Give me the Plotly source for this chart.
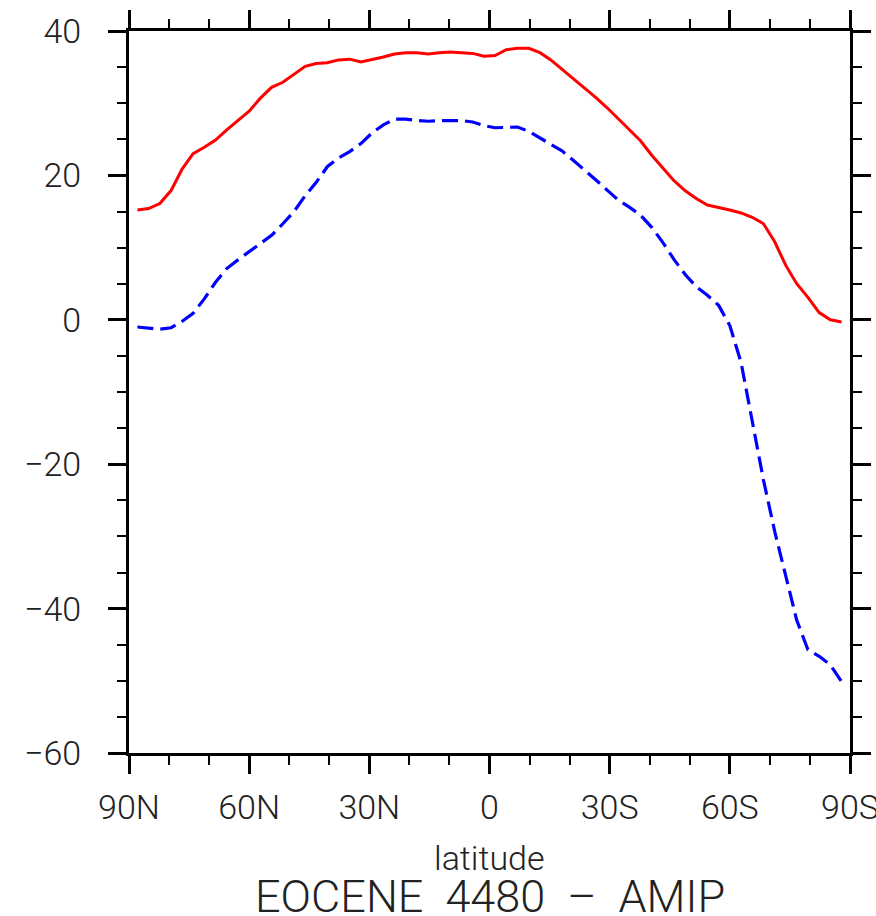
import plotly.graph_objects as go

# Gaussian-grid latitudes (degrees, north to south)
lat = [87.9, 85.1, 82.3, 79.5, 76.7, 74.0, 71.2, 68.4, 65.6, 62.8, 60.0, 57.2,
       54.4, 51.6, 48.8, 46.0, 43.3, 40.5, 37.7, 34.9, 32.1, 29.3, 26.5, 23.7,
       20.9, 18.1, 15.3, 12.6, 9.8, 7.0, 4.2, 1.4,
       -1.4, -4.2, -7.0, -9.8, -12.6, -15.3, -18.1, -20.9, -23.7, -26.5, -29.3,
       -32.1, -34.9, -37.7, -40.5, -43.3, -46.0, -48.8, -51.6, -54.4, -57.2,
       -60.0, -62.8, -65.6, -68.4, -71.2, -74.0, -76.7, -79.5, -82.3, -85.1, -87.9]

# EOCENE 4480 zonal mean
eocene = [15.2, 15.4, 16.1, 17.9, 20.9, 23.0, 23.9, 24.9, 26.3, 27.6, 28.9, 30.7,
          32.2, 32.9, 34.0, 35.1, 35.5, 35.6, 36.0, 36.1, 35.7, 36.0, 36.4, 36.8,
          37.0, 37.0, 36.8, 37.0, 37.1, 37.0, 36.9, 36.5,
          36.6, 37.4, 37.6, 37.6, 37.0, 36.0, 34.7, 33.5, 32.2, 30.8, 29.4,
          27.9, 26.4, 24.8, 22.8, 21.0, 19.3, 17.9, 16.8, 15.9, 15.6,
          15.2, 14.8, 14.2, 13.3, 10.8, 7.5, 5.0, 3.1, 1.0, 0.0, -0.3]

# AMIP zonal mean
amip = [-1.0, -1.2, -1.3, -1.1, -0.2, 0.9, 2.9, 5.2, 7.1, 8.3, 9.4, 10.5,
        11.7, 13.3, 15.0, 17.2, 19.0, 21.2, 22.4, 23.3, 24.4, 25.9, 27.0, 27.8,
        27.8, 27.6, 27.5, 27.6, 27.6, 27.6, 27.4, 26.9,
        26.6, 26.7, 26.7, 26.1, 25.2, 24.4, 23.4, 22.1, 20.8, 19.4, 18.0,
        16.6, 15.6, 14.5, 12.8, 10.7, 8.4, 6.3, 4.6, 3.4, 2.0,
        -0.8, -5.9, -14.1, -22.2, -29.3, -35.8, -41.6, -45.7, -46.6, -47.8, -50.1]

x_tickvals = [90, 60, 30, 0, -30, -60, -90]
x_ticktext = ["90N", "60N", "30N", "0", "30S", "60S", "90S"]
x_minor = [80, 70, 50, 40, 20, 10, -10, -20, -40, -50, -70, -80]

FONT = "Roboto"
TXT = "#222222"

fig = go.Figure()
fig.add_trace(go.Scatter(x=lat, y=eocene, mode="lines",
                         line=dict(color="#ff0000", width=3), name="EOCENE 4480"))
fig.add_trace(go.Scatter(x=lat, y=amip, mode="lines",
                         line=dict(color="#0000ff", width=3.2, dash="16px,7px"),
                         name="AMIP"))

axis_common = dict(
    showgrid=False, zeroline=False, automargin=False,
    showline=True, linecolor="black", linewidth=3,
    mirror="allticks", ticks="outside", tickcolor="black",
    ticklen=18, tickwidth=3,
    tickfont=dict(family=FONT, size=34, color=TXT, weight=300),
    ticklabeloverflow="allow",
)

fig.update_xaxes(
    range=[90, -90], tickmode="array", tickvals=x_tickvals, ticktext=x_ticktext,
    minor=dict(tickmode="array", tickvals=x_minor, ticks="outside",
               ticklen=9, tickwidth=2, tickcolor="black"),
    ticklabelstandoff=4,
    **axis_common,
)
fig.update_yaxes(
    range=[-60, 40], tickmode="linear", tick0=-60, dtick=20,
    minor=dict(tickmode="linear", tick0=-60, dtick=5, ticks="outside",
               ticklen=9, tickwidth=2, tickcolor="black"),
    ticklabelstandoff=20,
    **axis_common,
)

fig.update_layout(
    width=876, height=916,
    margin=dict(l=129, r=26, t=31, b=163),
    paper_bgcolor="white", plot_bgcolor="white",
    showlegend=False,
    annotations=[
        dict(text="latitude", x=0.5, y=-0.145, xref="paper", yref="paper",
             xanchor="center", yanchor="middle", showarrow=False,
             font=dict(family=FONT, size=34, color=TXT, weight=300)),
        dict(text="EOCENE  4480  \u2013  AMIP", x=0.5, y=-0.199, xref="paper",
             yref="paper", xanchor="center", yanchor="middle", showarrow=False,
             font=dict(family=FONT, size=45, color=TXT, weight=300)),
    ],
)

fig.write_html("out.html")
